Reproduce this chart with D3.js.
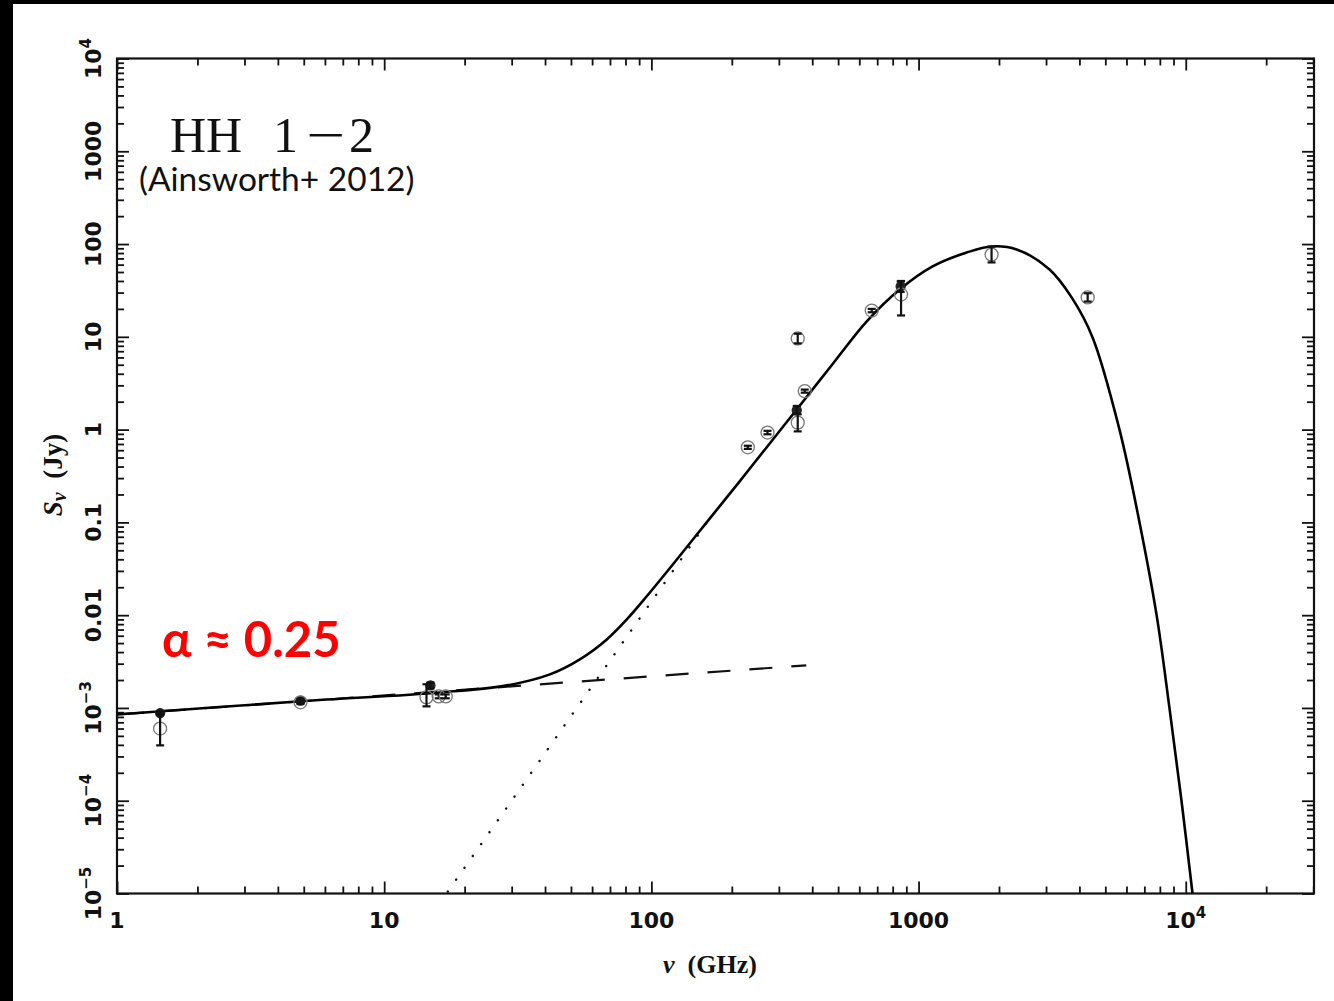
<!DOCTYPE html>
<html><head><meta charset="utf-8">
<script src="https://cdn.jsdelivr.net/npm/d3@7"></script>
<style>body{margin:0;background:#fff;} svg{display:block}</style>
</head><body>
<svg id="c" width="1334" height="1001"></svg>
<script>
// ---- data ----
const xDomain = [1, 30200];
const yDomain = [1e-5, 1e4];
const xLabelVals = [1, 10, 100, 1000, 10000];
const xLabelBase = ["1", "10", "100", "1000", "10"];
const xLabelExp  = ["", "", "", "", "4"];
const yLabelVals = [1e-5, 1e-4, 1e-3, 0.01, 0.1, 1, 10, 100, 1000, 1e4];
const yLabelBase = ["10", "10", "10", "0.01", "0.1", "1", "10", "100", "1000", "10"];
const yLabelExp  = ["\u22125", "\u22124", "\u22123", "", "", "", "", "", "", "4"];

// total model (solid)
const solidNu = [1, 4.88, 16.2, 28.8, 41.7, 54.0, 68.1, 80.9, 96.1, 120.3, 161, 214, 285, 350, 477, 640, 850, 1129, 1514, 1876, 2328, 3092, 3740, 4480, 5650, 6714, 7780, 8690, 9640, 10600];
const solidS  = [8.5e-4, 1.18e-3, 1.47e-3, 1.75e-3, 2.30e-3, 3.34e-3, 5.48e-3, 9.0e-3, 0.0160, 0.0352, 0.100, 0.277, 0.783, 1.65, 5.1, 14.7, 32.4, 57.4, 81.1, 94.2, 87.5, 53.2, 26.6, 9.86, 1.0, 0.1, 0.01, 1e-3, 1e-4, 1e-5];
// free-free power law (dashed)
const dashNu = [1, 380];
const dashS  = [8.5e-4, 2.88e-3];
// dust component (dotted)
const dotNu = [17.3, 84.5, 161];
const dotS  = [1.05e-5, 7.0e-3, 0.099];

// observations
const obsNu = [1.45, 1.45, 4.86, 4.86, 14.9, 14.4, 16.0, 17.0, 229.6, 272, 350, 353, 353, 375, 668, 857, 860, 1876, 4295];
const obsS  = [8.8e-4, 6.0e-4, 1.2e-3, 1.15e-3, 1.75e-3, 1.30e-3, 1.33e-3, 1.33e-3, 0.645, 0.93, 1.62, 1.19, 9.6, 2.6, 19.2, 34.9, 28.6, 77, 26.6];
const obsLo = [8.4e-4, 3.95e-4, 1.13e-3, 1.10e-3, 1.62e-3, 1.04e-3, 1.27e-3, 1.27e-3, 0.62, 0.89, 1.48, 0.957, 8.5, 2.5, 18.4, 30.5, 17.0, 63.4, 24.0];
const obsHi = [9.2e-4, 8.97e-4, 1.27e-3, 1.21e-3, 1.88e-3, 1.80e-3, 1.40e-3, 1.40e-3, 0.67, 0.97, 1.80, 1.46, 10.8, 2.7, 20.0, 39.5, 40.0, 94.0, 29.5];
const obsFilled = [1, 0, 1, 0, 1, 0, 0, 0, 0, 0, 1, 0, 0, 0, 0, 1, 0, 0, 0];

// ---- layout ----
const M = {left: 117, right: 1314, top: 58.5, bottom: 893.5};
const svg = d3.select("#c");
const x = d3.scaleLog().domain(xDomain).range([M.left, M.right]);
const y = d3.scaleLog().domain(yDomain).range([M.bottom, M.top]);

// black borders of the slide
svg.append("rect").attr("x", 0).attr("y", 0).attr("width", 1334).attr("height", 4).attr("fill", "#000");
svg.append("rect").attr("x", 0).attr("y", 0).attr("width", 13).attr("height", 1001).attr("fill", "#000");

svg.append("defs").append("clipPath").attr("id", "clip")
  .append("rect").attr("x", M.left).attr("y", M.top).attr("width", M.right - M.left).attr("height", M.bottom - M.top);

// ---- axes ticks ----
const isDecade = v => Math.abs(Math.log10(v) - Math.round(Math.log10(v))) < 1e-9;
const xAll = x.ticks();
const xMaj = xAll.filter(isDecade), xMin = xAll.filter(v => !isDecade(v));
const yAll = y.ticks();
const yMaj = yAll.filter(isDecade), yMin = yAll.filter(v => !isDecade(v));

function axisG(gen, tr, vals, size) {
  const g = svg.append("g").attr("transform", tr)
    .call(gen.tickValues(vals).tickSizeInner(size).tickSizeOuter(0).tickFormat(""));
  g.select(".domain").remove();
  g.selectAll("line").attr("stroke", "#111").attr("stroke-width", 1.8);
  g.selectAll("text").remove();
}
axisG(d3.axisBottom(x), `translate(0,${M.bottom})`, xMaj, -12);
axisG(d3.axisBottom(x), `translate(0,${M.bottom})`, xMin, -7);
axisG(d3.axisTop(x), `translate(0,${M.top})`, xMaj, -12);
axisG(d3.axisTop(x), `translate(0,${M.top})`, xMin, -7);
axisG(d3.axisLeft(y), `translate(${M.left},0)`, yMaj, -12);
axisG(d3.axisLeft(y), `translate(${M.left},0)`, yMin, -7);
axisG(d3.axisRight(y), `translate(${M.right},0)`, yMaj, -12);
axisG(d3.axisRight(y), `translate(${M.right},0)`, yMin, -7);

svg.append("rect").attr("x", M.left).attr("y", M.top)
  .attr("width", M.right - M.left).attr("height", M.bottom - M.top)
  .attr("fill", "none").attr("stroke", "#111").attr("stroke-width", 2.2);

// tick labels
const lblFont = "'DejaVu Sans', sans-serif";
xLabelVals.forEach((v, i) => {
  const t = svg.append("text").attr("x", x(v)).attr("y", 928)
    .attr("text-anchor", "middle").attr("font-family", lblFont).attr("font-weight", "bold")
    .attr("font-size", 22).attr("fill", "#111");
  t.append("tspan").text(xLabelBase[i]);
  if (xLabelExp[i]) t.append("tspan").attr("font-size", 15).attr("dy", -10).text(xLabelExp[i]);
});
yLabelVals.forEach((v, i) => {
  const t = svg.append("text").attr("transform", `translate(101,${y(v)}) rotate(-90)`)
    .attr("text-anchor", "middle").attr("font-family", lblFont).attr("font-weight", "bold")
    .attr("font-size", 22).attr("fill", "#111");
  t.append("tspan").text(yLabelBase[i]);
  if (yLabelExp[i]) t.append("tspan").attr("font-size", 15).attr("dy", -10).text(yLabelExp[i]);
});

// axis titles
const serif = "'Liberation Serif', 'Times New Roman', serif";
const xt = svg.append("text").attr("x", 710).attr("y", 973).attr("text-anchor", "middle")
  .attr("font-family", serif).attr("font-weight", "bold").attr("font-size", 26).attr("fill", "#111")
  .style("white-space", "pre");
xt.append("tspan").attr("font-style", "italic").text("\u03BD");
xt.append("tspan").text("  (GHz)");

const yt = svg.append("text").attr("transform", "translate(62,475) rotate(-90)").attr("text-anchor", "middle")
  .attr("font-family", serif).attr("font-weight", "bold").attr("font-size", 27).attr("fill", "#111")
  .style("white-space", "pre");
yt.append("tspan").attr("font-style", "italic").text("S");
yt.append("tspan").attr("font-style", "italic").attr("font-size", 20).attr("dy", 4).text("\u03BD");
yt.append("tspan").attr("dy", -4).text("  (Jy)");

// ---- curves ----
const plot = svg.append("g").attr("clip-path", "url(#clip)");
const line = d3.line().x(d => x(d[0])).y(d => y(d[1]));
plot.append("path").datum(dotNu.map((v, i) => [v, dotS[i]]))
  .attr("d", line).attr("fill", "none").attr("stroke", "#111").attr("stroke-width", 2.4)
  .attr("stroke-linecap", "round").attr("stroke-dasharray", "0.1,14.4");
plot.append("path").datum(dashNu.map((v, i) => [v, dashS[i]]))
  .attr("d", line).attr("fill", "none").attr("stroke", "#111").attr("stroke-width", 2.2)
  .attr("stroke-dasharray", "23,19").attr("stroke-dashoffset", -4);
const smooth = d3.line().x(d => x(d[0])).y(d => y(d[1])).curve(d3.curveCatmullRom.alpha(0.5));
plot.append("path").datum(solidNu.map((v, i) => [v, solidS[i]]))
  .attr("d", smooth).attr("fill", "none").attr("stroke", "#000").attr("stroke-width", 2.6);

// ---- observations ----
const obs = obsNu.map((v, i) => ({nu: v, s: obsS[i], lo: obsLo[i], hi: obsHi[i], f: obsFilled[i]}));
const og = plot.selectAll("g.obs").data(obs).join("g").attr("class", "obs");
og.append("circle").attr("cx", d => x(d.nu)).attr("cy", d => y(d.s))
  .attr("r", d => d.f ? 4.5 : 6.5)
  .attr("fill", d => d.f ? "#222" : "none")
  .attr("stroke", d => d.f ? "#222" : "#777").attr("stroke-width", 1.3);
og.append("line").attr("x1", d => x(d.nu)).attr("x2", d => x(d.nu))
  .attr("y1", d => y(d.lo)).attr("y2", d => y(d.hi)).attr("stroke", "#111").attr("stroke-width", 2.2);
og.append("line").attr("x1", d => x(d.nu) - 4).attr("x2", d => x(d.nu) + 4)
  .attr("y1", d => y(d.lo)).attr("y2", d => y(d.lo)).attr("stroke", "#111").attr("stroke-width", 2.2);
og.append("line").attr("x1", d => x(d.nu) - 4).attr("x2", d => x(d.nu) + 4)
  .attr("y1", d => y(d.hi)).attr("y2", d => y(d.hi)).attr("stroke", "#111").attr("stroke-width", 2.2);

// ---- annotations ----
const title = svg.append("text").attr("y", 152)
  .attr("font-family", serif).attr("font-size", 50).attr("fill", "#111");
title.append("tspan").attr("x", 170).text("HH");
title.append("tspan").attr("x", 273).text("1");
title.append("tspan").attr("x", 349).text("2");
svg.append("text").attr("x", 306).attr("y", 152)
  .attr("font-family", serif).attr("font-size", 50).attr("fill", "#111")
  .attr("textLength", 39).attr("lengthAdjust", "spacingAndGlyphs").text("\u2212");
svg.append("text").attr("x", 139).attr("y", 191)
  .attr("font-family", "Lato, 'Open Sans', sans-serif").attr("font-size", 33.5).attr("fill", "#111")
  .text("(Ainsworth+ 2012)");
svg.append("text").attr("x", 162).attr("y", 657)
  .attr("font-family", "Lato, 'Open Sans', sans-serif").attr("font-weight", "bold").attr("font-size", 49).attr("fill", "#ff0000")
  .text("\u03B1 \u2248 0.25");
</script>
</body></html>
